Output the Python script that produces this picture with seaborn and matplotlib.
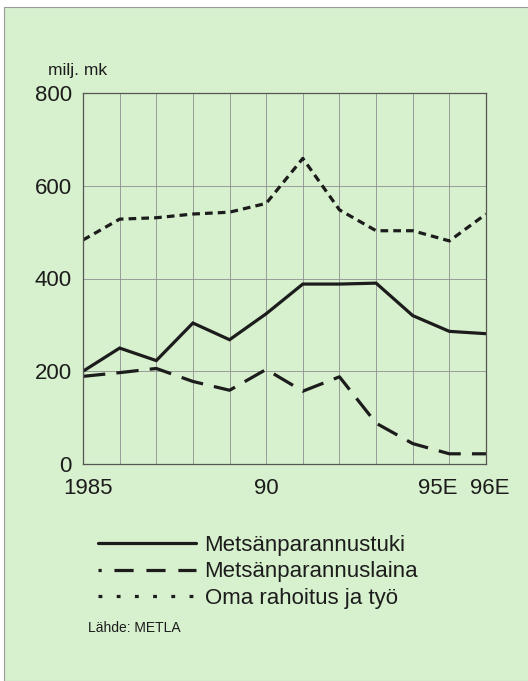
import matplotlib
matplotlib.use('Agg')
import matplotlib.pyplot as plt
import matplotlib.transforms as mtransforms
from matplotlib.lines import Line2D
from matplotlib.patches import Rectangle
import seaborn as sns
import pandas as pd

years = list(range(1985, 1997))
tuki = [200, 250, 223, 304, 268, 324, 388, 388, 390, 320, 286, 281]
laina = [189, 197, 206, 178, 159, 204, 157, 188, 88, 44, 22, 22]
oma = [483, 528, 531, 539, 543, 562, 659, 548, 503, 503, 481, 539]
xlabels = ['1985', '', '', '', '', '90', '', '', '', '', '95E', '96E']
names = ['Metsänparannustuki', 'Metsänparannuslaina', 'Oma rahoitus ja työ']

df = pd.DataFrame({'vuosi': years, 'tuki': tuki, 'laina': laina, 'oma': oma})

sns.set_style('white')
plt.rcParams['font.family'] = ['Liberation Sans', 'DejaVu Sans']

W, H = 528, 681
fig = plt.figure(figsize=(W / 100, H / 100), dpi=100, facecolor='white')
bg = Rectangle((4 / W, 0), 1, 1 - 7 / H, transform=fig.transFigure,
               facecolor='#d7f0cd', edgecolor='#9a9a9a', lw=0.8, zorder=-10)
fig.patches.append(bg)

ax = fig.add_axes([83 / W, 1 - 464 / H, (486 - 83) / W, (464 - 93) / H])
ax.set_facecolor('none')

ink = '#1c1c1c'
lw = 2.3
sns.lineplot(data=df, x='vuosi', y='tuki', ax=ax, color=ink, lw=lw,
             linestyle='-', solid_joinstyle='miter')
sns.lineplot(data=df, x='vuosi', y='laina', ax=ax, color=ink, lw=lw,
             linestyle=(0, (7, 3.5)))
sns.lineplot(data=df, x='vuosi', y='oma', ax=ax, color=ink, lw=lw,
             linestyle=(0, (2.4, 1.6)), dash_capstyle='butt')

ax.set_xlim(1985, 1996)
ax.set_ylim(0, 800)
ax.set_xticks(years)
ax.set_xticklabels(xlabels)
ax.set_yticks([0, 200, 400, 600, 800])
ax.grid(True, color='#8f8f8f', lw=0.6)
ax.set_axisbelow(True)
for s in ax.spines.values():
    s.set_color('#555555')
    s.set_linewidth(0.9)
ax.tick_params(axis='both', direction='out', length=6, width=0.9,
               color='#555555', labelsize=16, labelcolor=ink, pad=2)
ax.tick_params(axis='x', pad=4)
ax.set_xlabel('')
ax.set_ylabel('')

# nudge a few year labels sideways like in the original
shifts = {'1985': 5, '95E': -12, '96E': 4}
for lab in ax.get_xticklabels():
    dx = shifts.get(lab.get_text(), 0)
    if dx:
        off = mtransforms.ScaledTranslation(dx / 100, 0, fig.dpi_scale_trans)
        lab.set_transform(lab.get_transform() + off)

fig.text(48 / W, 1 - 70 / H, 'milj. mk', fontsize=12.5, color=ink,
         va='center', ha='left')

handles = [
    Line2D([], [], color=ink, lw=lw, linestyle='-'),
    Line2D([], [], color=ink, lw=lw, linestyle=(5, (6, 4))),
    Line2D([], [], color=ink, lw=lw, linestyle=(0, (1.2, 4.5))),
]
fig.legend(handles, names, loc='upper left',
           bbox_to_anchor=(89 / W, 1 - 526 / H), frameon=False,
           fontsize=16, handlelength=4.4, handletextpad=0.4,
           labelspacing=0.25, borderaxespad=0, labelcolor=ink)

fig.text(88 / W, 1 - 628 / H, 'Lähde: METLA', fontsize=10, color=ink,
         va='center', ha='left')

fig.savefig('out.png', dpi=100, facecolor=fig.get_facecolor())
